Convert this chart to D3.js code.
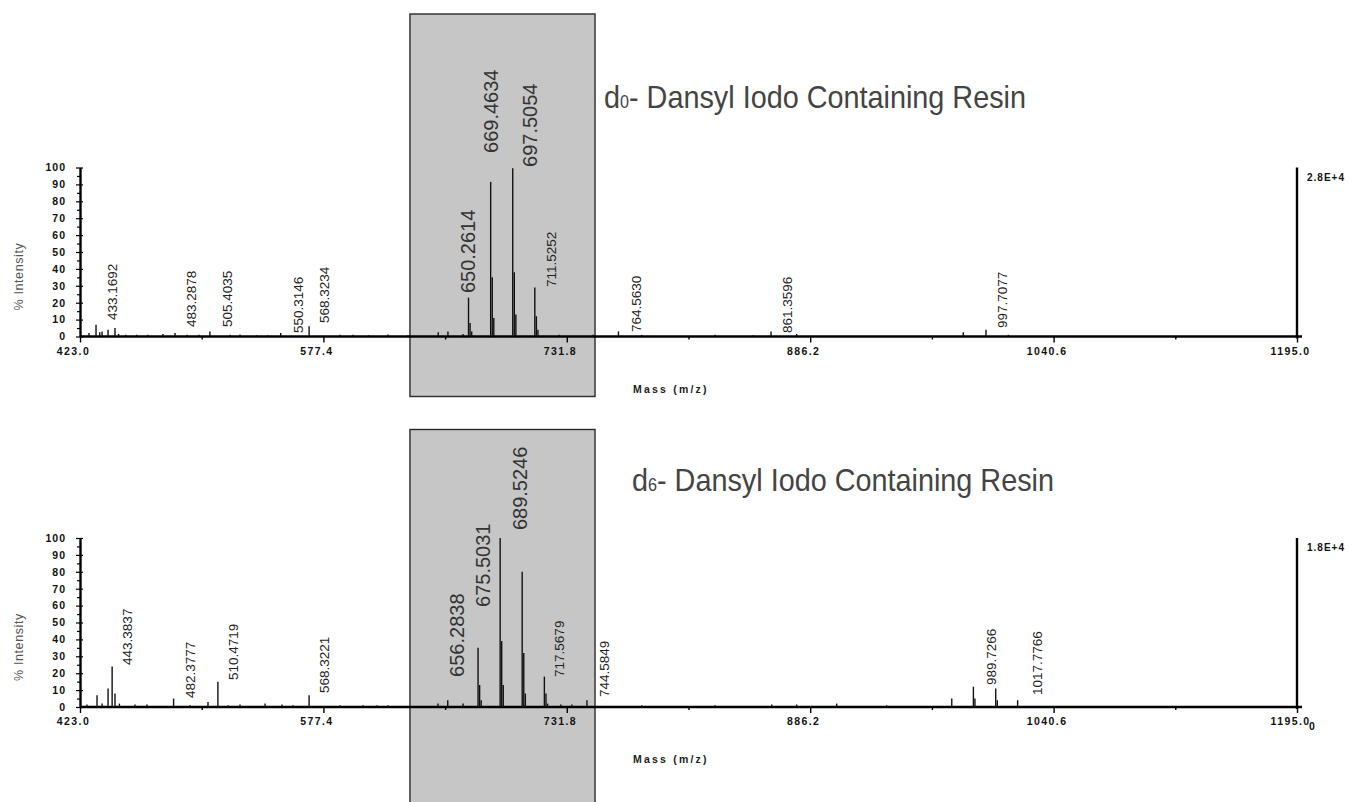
<!DOCTYPE html>
<html>
<head>
<meta charset="utf-8">
<script src="https://cdn.jsdelivr.net/npm/d3@7"></script>
<style>
  html, body { margin: 0; padding: 0; background: #fff; }
  svg { display: block; }
  .tick text { font-family: "Liberation Sans", Arial, sans-serif; font-weight: bold; }
</style>
</head>
<body>
<svg id="chart" width="1354" height="802"></svg>
<script>
// ---- axes ----
const mzDomain = [423.0, 1195.0];
const mzTicks = [423.0, 577.4, 731.8, 886.2, 1040.6, 1195.0];
const mzMinorTicks = [500.2, 654.6, 809.0, 963.4, 1117.8];
const intensityTicks = [0, 10, 20, 30, 40, 50, 60, 70, 80, 90, 100];
const intensityMinorTicks = [5, 15, 25, 35, 45, 55, 65, 75, 85, 95];
const highlightWindow = [632.3, 749.7];   // m/z range of the shaded region

// ---- d0 resin spectrum: [m/z, % intensity] ----
const peaksD0 = [
  [428.7, 2], [433.1692, 7], [435.5, 2.5], [437.0, 3], [440.8, 4], [445.2, 5],
  [447.5, 1.5], [452.0, 1], [459.0, 1], [466.0, 1], [475.6, 1.5], [483.2878, 2],
  [490.9, 1], [498.5, 1], [505.4035, 3], [518.2, 1], [524.5, 1.2], [535.0, 0.8],
  [542.0, 0.8], [550.3146, 2], [568.3234, 6], [588.0, 1], [596.2, 1], [606.0, 0.8],
  [618.4, 1.2], [631.0, 0.8], [650.2614, 2.5], [656.4, 3], [666.0, 1.5],
  [669.4634, 23], [670.46, 8], [671.46, 3],
  [683.5, 91.5], [684.5, 35], [685.5, 11],
  [697.5054, 99.6], [698.5, 38], [699.5, 13],
  [711.5252, 29], [712.5, 12], [713.5, 4],
  [727.0, 1], [748.4, 1], [764.5630, 3], [779.3, 1], [825.8, 1], [850.0, 0.8],
  [861.3596, 3], [877.6, 1.5], [983.3, 2.5], [997.7077, 4], [1011.9, 1]
];
// annotations: text and the point (m/z, %) at the foot of the rotated text
const labelsD0 = [
  { text: "433.1692", at: [443.3, 9.8], major: false },
  { text: "483.2878", at: [494.0, 5.6], major: false },
  { text: "505.4035", at: [516.3, 5.6], major: false },
  { text: "550.3146", at: [561.3, 2.1], major: false },
  { text: "568.3234", at: [578.4, 8.0], major: false },
  { text: "650.2614", at: [669.1, 25.7], major: true },
  { text: "669.4634", at: [683.7, 108.6], major: true },
  { text: "697.5054", at: [708.5, 100.3], major: true },
  { text: "711.5252", at: [721.8, 29.3], major: false },
  { text: "764.5630", at: [775.7, 2.7], major: false },
  { text: "861.3596", at: [871.5, 2.1], major: false },
  { text: "997.7077", at: [1008.5, 5.0], major: false }
];

// ---- d6 resin spectrum: [m/z, % intensity] ----
const peaksD6 = [
  [427.4, 1.5], [433.8, 7], [437.0, 2], [440.8, 11], [443.3837, 24], [445.2, 8],
  [448.0, 2], [457.9, 1.5], [465.5, 1.5], [482.3777, 5], [492.8, 1], [504.2, 3],
  [510.4719, 15], [517.0, 1], [524.5, 1.5], [540.4, 2], [551.1, 1.5], [558.1, 1],
  [568.3221, 7], [588.0, 1], [602.5, 1], [611.4, 1], [618.4, 1],
  [650.1, 2], [656.2838, 4], [666.0, 2],
  [675.5031, 35], [676.5, 13], [677.5, 4],
  [689.5246, 100], [690.5, 39], [691.5, 13],
  [703.5, 80], [704.5, 32], [705.5, 8],
  [717.5679, 18], [718.6, 8], [719.6, 2],
  [728.0, 1.5], [735.0, 1.5], [744.5849, 4],
  [779.3, 1], [825.8, 1], [861.8, 1.5], [877.6, 1.5], [903.0, 2], [934.7, 1],
  [976.0, 5], [989.7266, 12], [990.7, 5], [1003.9, 11], [1004.9, 4], [1017.7766, 4]
];
const labelsD6 = [
  { text: "443.3837", at: [453.4, 24.9], major: false },
  { text: "482.3777", at: [492.8, 5.3], major: false },
  { text: "510.4719", at: [520.1, 16.0], major: false },
  { text: "568.3221", at: [578.4, 8.3], major: false },
  { text: "656.2838", at: [662.1, 17.8], major: true },
  { text: "675.5031", at: [678.6, 59.2], major: true },
  { text: "689.5246", at: [702.1, 104.7], major: true },
  { text: "717.5679", at: [726.9, 17.8], major: false },
  { text: "744.5849", at: [755.4, 5.9], major: false },
  { text: "989.7266", at: [1000.9, 13.0], major: false },
  { text: "1017.7766", at: [1030.1, 7.1], major: false }
];

const titleD0 = { lead: "d", sub: "0", rest: "- Dansyl Iodo Containing Resin" };
const titleD6 = { lead: "d", sub: "6", rest: "- Dansyl Iodo Containing Resin" };
const fullScaleD0 = "2.8E+4";
const fullScaleD6 = "1.8E+4";

// ---- drawing ----
const svg = d3.select("#chart");
const FONT = '"Liberation Sans", Arial, sans-serif';
const x = d3.scaleLinear().domain(mzDomain).range([80, 1297]);
const plotH = 169;

const panels = [
  { peaks: peaksD0, labels: labelsD0, title: titleD0, scaleText: fullScaleD0,
    axisY: 336.5, boxTop: 14, boxBottom: 396.5, titleX: 604, titleY: 108, rightZero: false },
  { peaks: peaksD6, labels: labelsD6, title: titleD6, scaleText: fullScaleD6,
    axisY: 707, boxTop: 429.5, boxBottom: 815, titleX: 632, titleY: 491, rightZero: true }
];

panels.forEach(p => {
  const g = svg.append("g");
  const y = d3.scaleLinear().domain([0, 100]).range([p.axisY, p.axisY - plotH]);

  // shaded window
  g.append("rect")
    .attr("x", x(highlightWindow[0]))
    .attr("y", p.boxTop)
    .attr("width", x(highlightWindow[1]) - x(highlightWindow[0]))
    .attr("height", p.boxBottom - p.boxTop)
    .attr("fill", "#c6c6c6")
    .attr("stroke", "#2a2a2a")
    .attr("stroke-width", 1.4);

  // title (slightly condensed face)
  const t = g.append("text")
    .attr("transform", `translate(${p.titleX},${p.titleY}) scale(0.9,1)`)
    .attr("font-family", FONT).attr("font-size", 32)
    .attr("fill", "#444");
  t.append("tspan").text(p.title.lead);
  t.append("tspan").attr("font-size", 18).text(p.title.sub);
  t.append("tspan").text(p.title.rest);

  // x axis
  const xAxis = g.append("g")
    .attr("transform", `translate(0,${p.axisY})`)
    .call(d3.axisBottom(x).tickValues(mzTicks).tickSize(6).tickSizeOuter(0)
      .tickPadding(5).tickFormat(d3.format(".1f")));
  xAxis.select(".domain").remove();
  xAxis.selectAll(".tick line").attr("stroke", "#000").attr("stroke-width", 1.4);
  xAxis.selectAll(".tick text")
    .attr("font-size", 10.5).attr("fill", "#111")
    .attr("letter-spacing", "1.4px").attr("dx", -7);

  g.append("g")
    .attr("transform", `translate(0,${p.axisY})`)
    .call(d3.axisBottom(x).tickValues(mzMinorTicks).tickSize(3).tickFormat(""))
    .call(a => a.select(".domain").remove())
    .selectAll(".tick line").attr("stroke", "#000").attr("stroke-width", 1.4);

  // baseline
  g.append("line")
    .attr("x1", x.range()[0]).attr("x2", x.range()[1] + 5)
    .attr("y1", p.axisY).attr("y2", p.axisY)
    .attr("stroke", "#000").attr("stroke-width", 2.4);

  // left intensity axis
  const yAxis = g.append("g")
    .attr("transform", `translate(${x.range()[0]},0)`)
    .call(d3.axisLeft(y).tickValues(intensityTicks).tickSize(4).tickSizeOuter(0).tickPadding(10));
  yAxis.select(".domain").attr("stroke", "#000").attr("stroke-width", 2.4);
  yAxis.selectAll(".tick line").attr("stroke", "#000").attr("stroke-width", 1.2);
  yAxis.selectAll(".tick text")
    .attr("font-size", 10.5).attr("fill", "#111").attr("letter-spacing", "1px");

  g.append("g")
    .attr("transform", `translate(${x.range()[0]},0)`)
    .call(d3.axisLeft(y).tickValues(intensityMinorTicks).tickSize(3).tickFormat(""))
    .call(a => a.select(".domain").remove())
    .selectAll(".tick line").attr("stroke", "#000").attr("stroke-width", 1.2);
  g.append("g")
    .attr("transform", `translate(${x.range()[0]},0)`)
    .call(d3.axisRight(y).tickValues(intensityTicks).tickSize(3).tickFormat(""))
    .call(a => a.select(".domain").remove())
    .selectAll(".tick line").attr("stroke", "#000").attr("stroke-width", 1.2);

  g.append("text")
    .attr("transform", `translate(23,${p.axisY - 60}) rotate(-90)`)
    .attr("text-anchor", "middle")
    .attr("font-family", FONT).attr("font-size", 12.5)
    .attr("fill", "#555").attr("letter-spacing", "0.6px")
    .text("% Intensity");

  // right full-scale axis
  g.append("line")
    .attr("x1", x.range()[1]).attr("x2", x.range()[1])
    .attr("y1", y(0) + 2).attr("y2", y(100))
    .attr("stroke", "#000").attr("stroke-width", 2.4);
  g.append("text")
    .attr("x", x.range()[1] + 10).attr("y", y(100) + 13)
    .attr("font-family", FONT).attr("font-weight", "bold").attr("font-size", 10)
    .attr("fill", "#111").attr("letter-spacing", "1px")
    .text(p.scaleText);
  if (p.rightZero) {
    g.append("text")
      .attr("x", x.range()[1] + 12).attr("y", p.axisY + 23)
      .attr("font-family", FONT).attr("font-weight", "bold").attr("font-size", 10.5)
      .attr("fill", "#111").text("0");
  }

  // axis title
  g.append("text")
    .attr("x", 633).attr("y", p.axisY + 56)
    .attr("font-family", FONT).attr("font-weight", "bold").attr("font-size", 10.5)
    .attr("fill", "#222").attr("letter-spacing", "2.2px")
    .text("Mass (m/z)");

  // spectrum sticks
  g.append("g").selectAll("line")
    .data(p.peaks)
    .join("line")
    .attr("x1", d => x(d[0])).attr("x2", d => x(d[0]))
    .attr("y1", y(0)).attr("y2", d => y(d[1]))
    .attr("stroke", "#111").attr("stroke-width", 1.4);

  // peak annotations (rotated, reading upward)
  g.append("g").selectAll("text")
    .data(p.labels)
    .join("text")
    .attr("transform", d => `translate(${x(d.at[0])},${y(d.at[1])}) rotate(-90)`)
    .attr("dominant-baseline", "central")
    .attr("font-family", FONT)
    .attr("font-size", d => d.major ? 20 : 13.5)
    .attr("fill", d => d.major ? "#333" : "#222")
    .text(d => d.text);
});
</script>
</body>
</html>
